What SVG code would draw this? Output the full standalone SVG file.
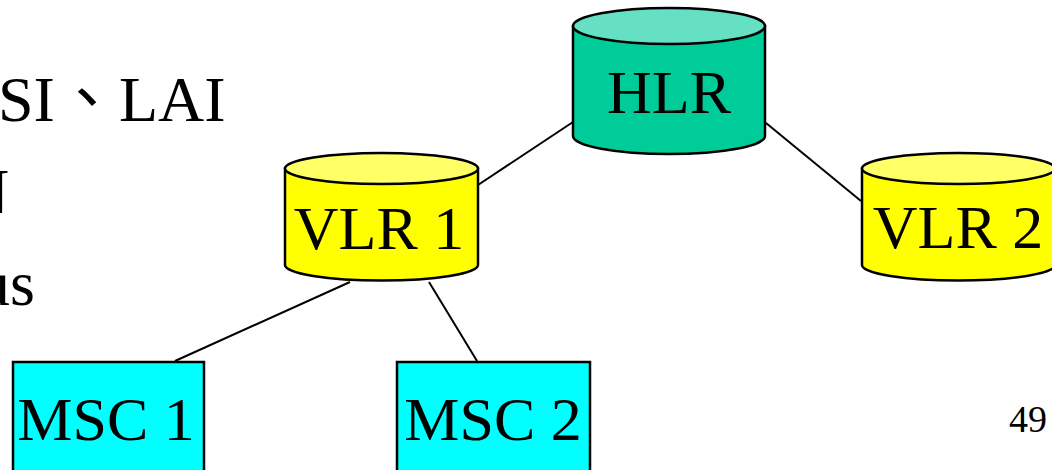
<svg xmlns="http://www.w3.org/2000/svg" width="1052" height="470" viewBox="0 0 1052 470">
<style>
.t{font-family:"Liberation Serif","Noto Sans CJK TC",serif;fill:#000}
.lbl{font-size:62px;text-anchor:middle}
.side{font-size:64px}
.shape{stroke:#000;stroke-width:2.5}
.conn{stroke:#000;stroke-width:2;fill:none}
</style>
<rect width="1052" height="470" fill="#fff"/>
<g id="side-text">
<text class="t side" x="-2" y="121">SI、LAI</text>
<text class="t side" x="9" y="213" text-anchor="end">N</text>
<text class="t side" x="35" y="305" text-anchor="end">us</text>
<text class="t" x="1009" y="432" font-size="38">49</text>
</g>
<g id="connectors">
<line class="conn" x1="573" y1="122" x2="478" y2="185"/>
<line class="conn" x1="766" y1="123" x2="861" y2="201"/>
<line class="conn" x1="350" y1="282" x2="175" y2="361"/>
<line class="conn" x1="429" y1="282" x2="477" y2="361"/>
</g>
<g id="HLR">
<path class="shape" fill="#00CC99" d="M573,26 L573,136 A96,18 0 0 0 765,136 L765,26 Z"/>
<ellipse class="shape" fill="#66E0C2" cx="669" cy="26" rx="96" ry="18"/>
<text class="t lbl" x="669" y="113">HLR</text>
</g>
<g id="VLR1">
<path class="shape" fill="#FFFF00" d="M285,168.5 L285,265 A96.5,15.5 0 0 0 478,265 L478,168.5 Z"/>
<ellipse class="shape" fill="#FFFF66" cx="381.5" cy="168.5" rx="96.5" ry="15.5"/>
<text class="t lbl" x="379" y="249">VLR 1</text>
</g>
<g id="VLR2">
<path class="shape" fill="#FFFF00" d="M862,168.5 L862,265 A96.5,15.5 0 0 0 1055,265 L1055,168.5 Z"/>
<ellipse class="shape" fill="#FFFF66" cx="958.5" cy="168.5" rx="96.5" ry="15.5"/>
<text class="t lbl" x="958" y="248">VLR 2</text>
</g>
<g id="MSC1">
<rect class="shape" fill="#00FFFF" x="13" y="362" width="191" height="120"/>
<text class="t lbl" x="106" y="440">MSC 1</text>
</g>
<g id="MSC2">
<rect class="shape" fill="#00FFFF" x="397" y="362" width="193" height="120"/>
<text class="t lbl" x="493" y="440">MSC 2</text>
</g>
</svg>
